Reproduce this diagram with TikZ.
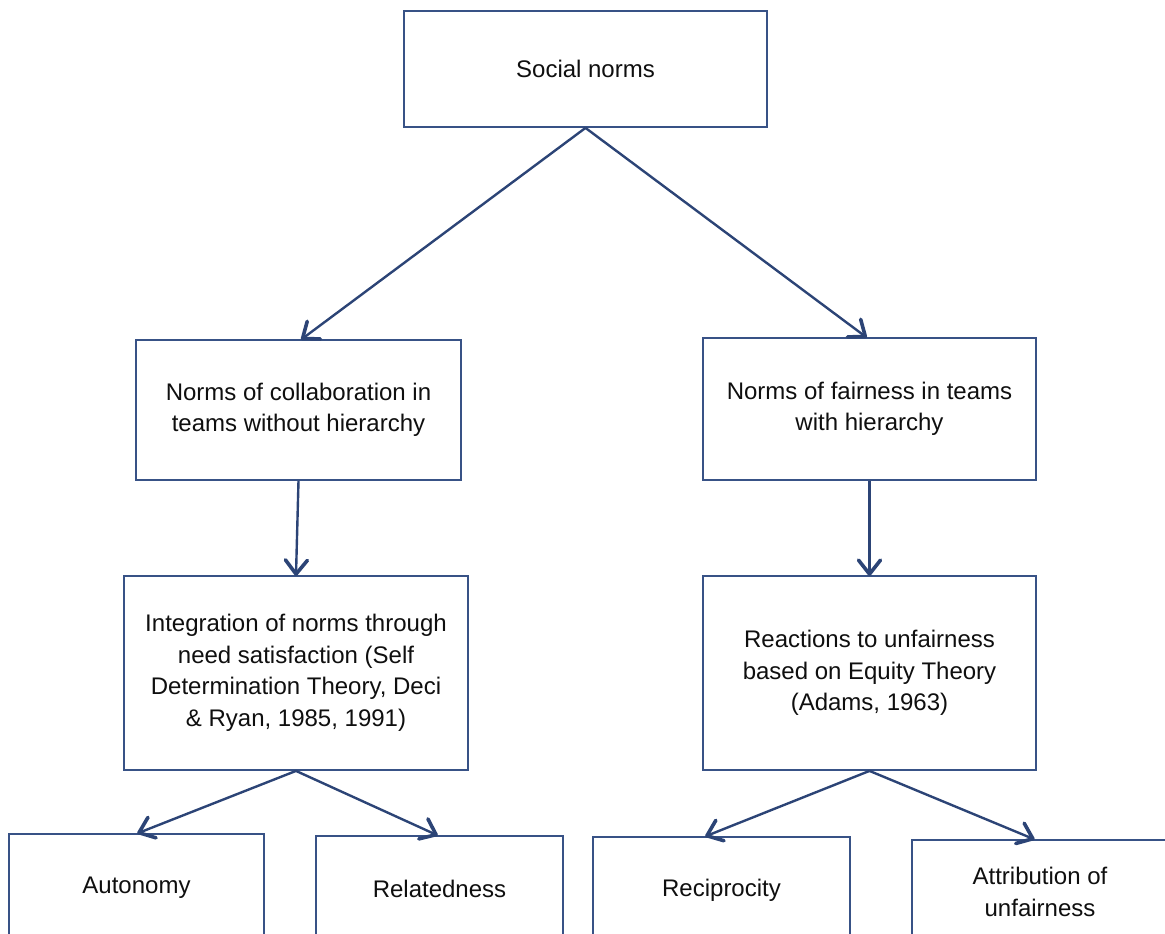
\documentclass[tikz,border=0pt]{standalone}
\usepackage{fontspec}
\setmainfont{Liberation Sans}
\usetikzlibrary{calc,decorations.markings}
\definecolor{edgeblue}{RGB}{44,68,118}
\definecolor{boxblue}{RGB}{56,82,134}
\definecolor{ink}{RGB}{15,15,15}
\begin{document}
\begin{tikzpicture}[x=1pt,y=-1pt,
  box/.style={draw=boxblue,line width=1.8pt,fill=white,align=center,text=ink,
    font=\fontsize{24}{31.5}\selectfont,inner sep=0pt},
  % connector with an open V head at its end
  link/.style={draw=edgeblue,line width=2.4pt,postaction={decorate},
    decoration={markings,mark=at position 1 with {
      \draw[edgeblue,line width=3.6pt,line cap=round,line join=round]
        (-15pt,11pt) -- (-1pt,0pt) -- (-15pt,-11pt);}}}]
\useasboundingbox (0,0) rectangle (1165,934);
\clip (0,0) rectangle (1165,934);

% top level
\node[box,minimum width=363pt,minimum height=116pt] (soc) at (585.5,69) {Social norms};

% second level
\node[box,minimum width=325pt,minimum height=140pt] (collab) at (298.5,410)
  {Norms of collaboration in\\teams without hierarchy};
\node[box,minimum width=333pt,minimum height=142pt] (fair) at (869.5,409)
  {Norms of fairness in teams\\with hierarchy};

% third level
\node[box,minimum width=344pt,minimum height=194pt] (integ) at (296,673)
  {Integration of norms through\\need satisfaction (Self\\Determination Theory, Deci\\\& Ryan, 1985, 1991)};
\node[box,minimum width=333pt,minimum height=194pt] (react) at (869.5,673)
  {Reactions to unfairness\\based on Equity Theory\\(Adams, 1963)};

% bottom level (boxes run past the lower edge)
\node[box,minimum width=255pt,minimum height=108pt] (auto) at (136.5,888) {Autonomy};
\node[box,minimum width=247pt,minimum height=106pt] (rel) at (439.5,889) {Relatedness};
\node[box,minimum width=257pt,minimum height=106pt] (recip) at (721.5,890) {Reciprocity};
\node[box,minimum width=256pt,minimum height=104pt] (attr) at (1040,892)
  {Attribution of\\unfairness};

% connectors
\draw[link] (soc.south) -- ($(collab.north west)!0.51!(collab.north east)$);
\draw[link] (soc.south) -- ($(fair.north west)!0.49!(fair.north east)$);
\draw[link] (collab.south) -- (integ.north);
\draw[link] (fair.south) -- (react.north);
\draw[link] (integ.south) -- ($(auto.north west)!0.506!(auto.north east)$);
\draw[link] (integ.south) -- ($(rel.north west)!0.49!(rel.north east)$);
\draw[link] (react.south) -- ($(recip.north west)!0.44!(recip.north east)$);
\draw[link] (react.south) -- ($(attr.north west)!0.476!(attr.north east)$);
\end{tikzpicture}
\end{document}
